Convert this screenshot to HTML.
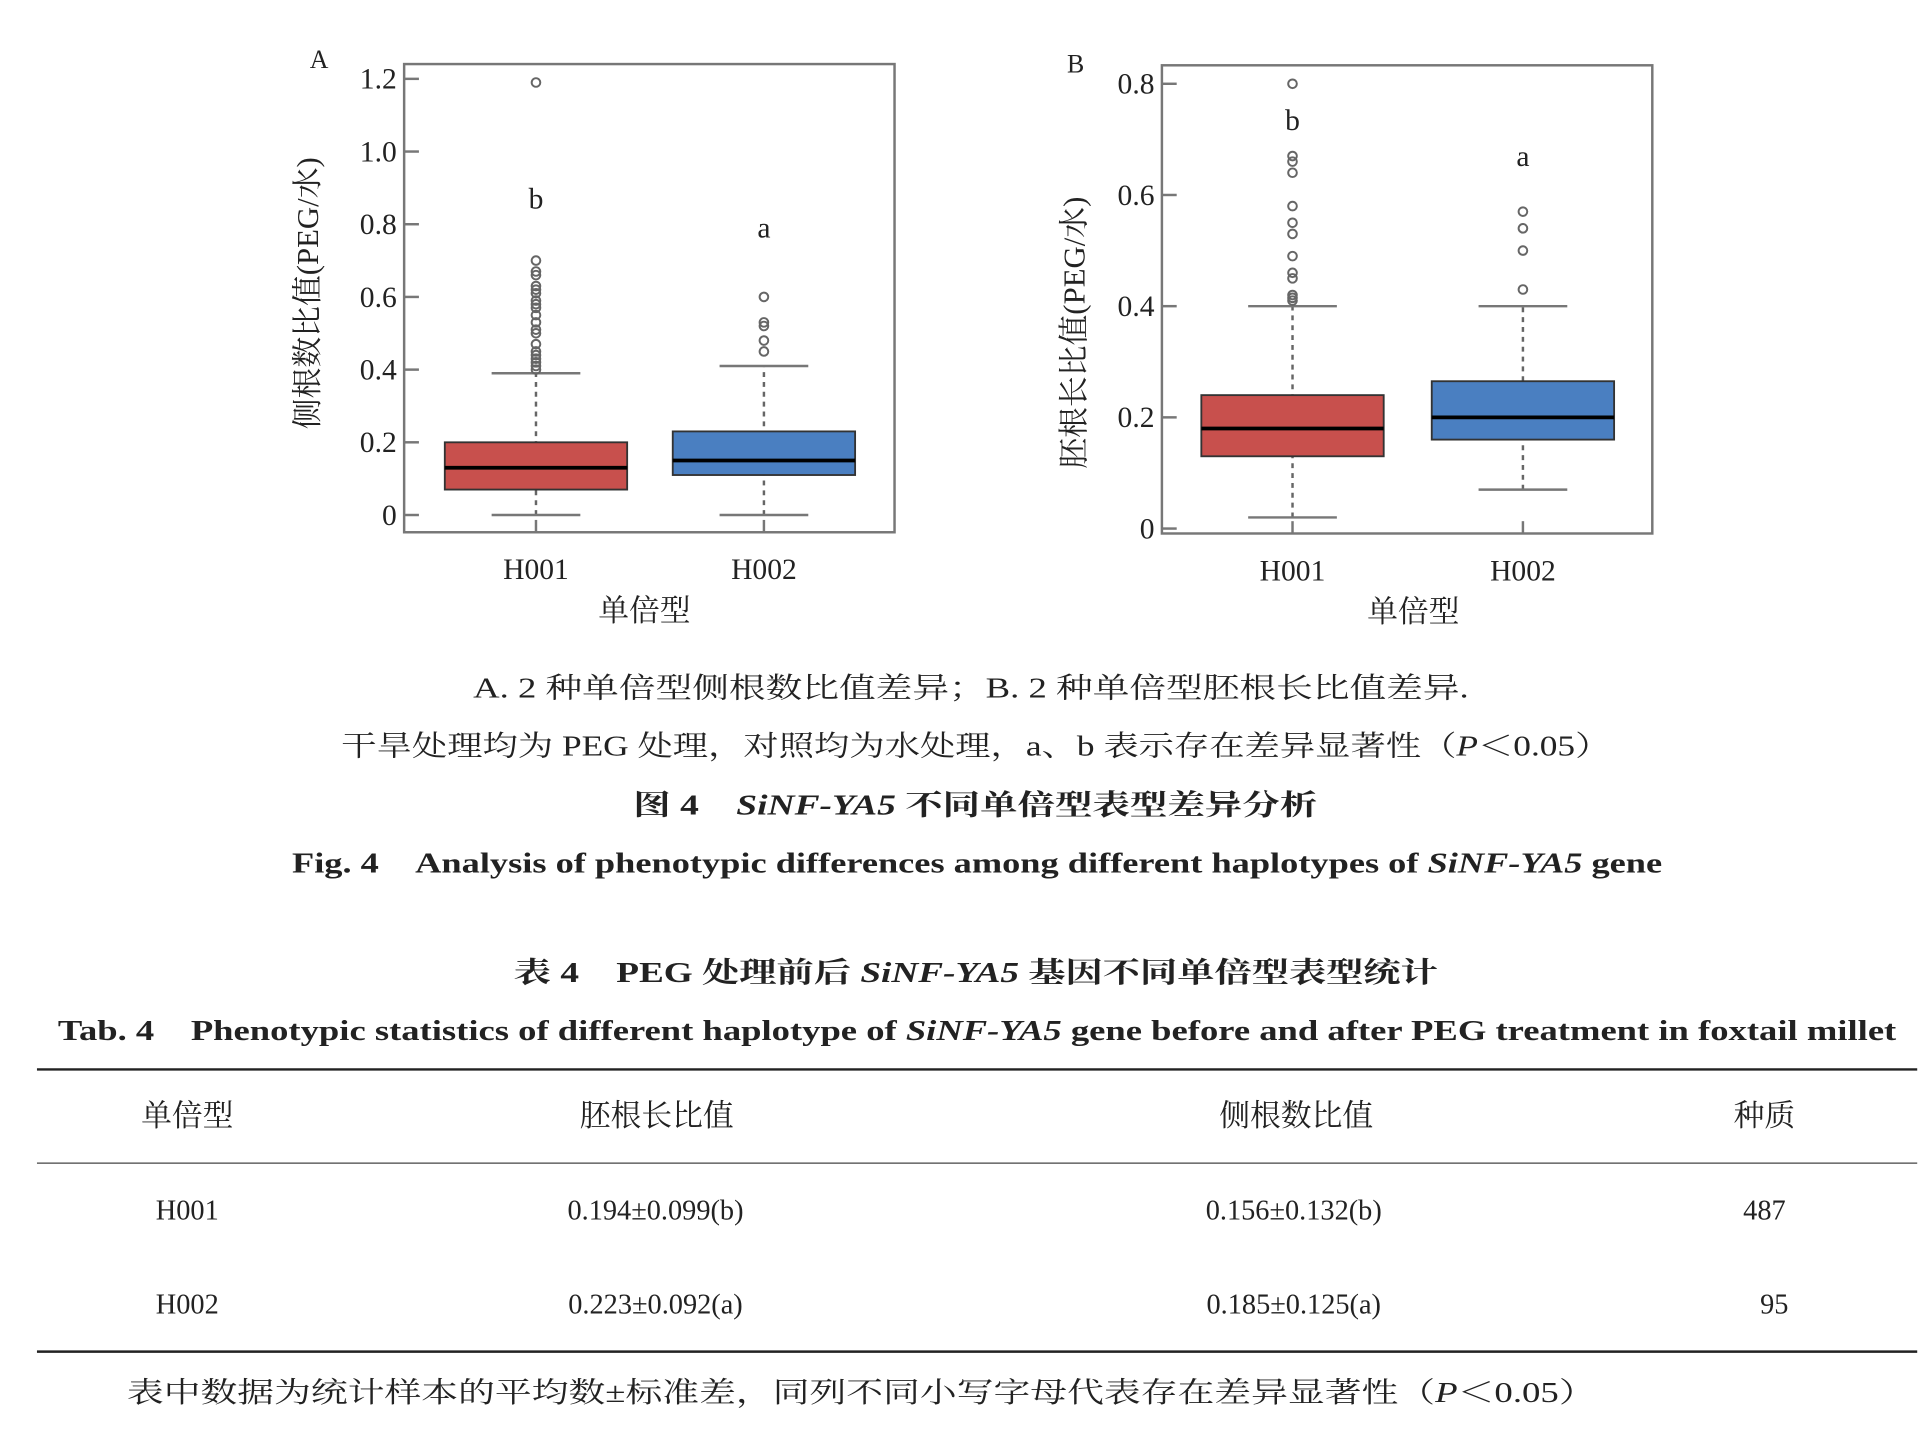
<!DOCTYPE html>
<html><head><meta charset="utf-8"><style>
html,body{margin:0;padding:0;background:#fff;}
svg{display:block;}
text{font-family:"Liberation Serif","Noto Serif CJK SC",serif;fill:#222;}
.cn{font-family:"Liberation Serif","Noto Serif CJK SC",serif;}
.b{font-weight:bold;}
</style></head><body>
<svg id="fig" width="1932" height="1452" viewBox="0 0 1568 1178.5" preserveAspectRatio="none" xmlns="http://www.w3.org/2000/svg">
<g id="chartA"></g>
<g id="chartB"></g>

<g font-size="23">
<text x="384" y="566" textLength="808" lengthAdjust="spacingAndGlyphs">A. 2 种单倍型侧根数比值差异；B. 2 种单倍型胚根长比值差异.</text>
<text x="277" y="613" textLength="1030" lengthAdjust="spacingAndGlyphs">干旱处理均为 PEG 处理，对照均为水处理，a、b 表示存在差异显著性（<tspan font-style="italic">P</tspan>＜0.05）</text>
<text class="b" x="514" y="661" textLength="555" lengthAdjust="spacingAndGlyphs">图 4　<tspan font-style="italic">SiNF-YA5</tspan> 不同单倍型表型差异分析</text>
<text class="b" x="237" y="708" textLength="1112" lengthAdjust="spacingAndGlyphs">Fig. 4　Analysis of phenotypic differences among different haplotypes of <tspan font-style="italic">SiNF-YA5</tspan> gene</text>
<text class="b" x="417" y="797" textLength="750" lengthAdjust="spacingAndGlyphs">表 4　PEG 处理前后 <tspan font-style="italic">SiNF-YA5</tspan> 基因不同单倍型表型统计</text>
<text class="b" x="47" y="844" textLength="1492" lengthAdjust="spacingAndGlyphs">Tab. 4　Phenotypic statistics of different haplotype of <tspan font-style="italic">SiNF-YA5</tspan> gene before and after PEG treatment in foxtail millet</text>
</g>

<g font-size="25">
<line x1="30" x2="1556" y1="868" y2="868" stroke="#222" stroke-width="2"/>
<line x1="30" x2="1556" y1="944" y2="944" stroke="#444" stroke-width="1"/>
<line x1="30" x2="1556" y1="1097" y2="1097" stroke="#222" stroke-width="2"/>
<text x="152" y="914" text-anchor="middle">单倍型</text>
<text x="533" y="914" text-anchor="middle">胚根长比值</text>
<text x="1052" y="914" text-anchor="middle">侧根数比值</text>
<text x="1432" y="914" text-anchor="middle">种质</text>
<g font-size="23" fill="#333">
<text x="152" y="990" text-anchor="middle">H001</text>
<text x="532" y="990" text-anchor="middle">0.194±0.099(b)</text>
<text x="1050" y="990" text-anchor="middle">0.156±0.132(b)</text>
<text x="1432" y="990" text-anchor="middle">487</text>
<text x="152" y="1066" text-anchor="middle">H002</text>
<text x="532" y="1066" text-anchor="middle">0.223±0.092(a)</text>
<text x="1050" y="1066" text-anchor="middle">0.185±0.125(a)</text>
<text x="1440" y="1066" text-anchor="middle">95</text>
</g>
<text font-size="23" x="103" y="1138" textLength="1192" lengthAdjust="spacingAndGlyphs">表中数据为统计样本的平均数±标准差，同列不同小写字母代表存在差异显著性（<tspan font-style="italic">P</tspan>＜0.05）</text>
</g>
</svg>
<script>
// Chart A data
const catsA = ["H001","H002"];
const q1A = [0.07, 0.11];
const medA = [0.13, 0.15];
const q3A = [0.20, 0.23];
const wLoA = [0.0, 0.0];
const wHiA = [0.39, 0.41];
const outA = [[0.40,0.41,0.42,0.43,0.44,0.45,0.47,0.50,0.51,0.53,0.55,0.57,0.58,0.59,0.61,0.62,0.63,0.66,0.67,0.70,1.19],[0.45,0.48,0.52,0.53,0.60]];
const sigA = ["b","a"];
const sigYA = [0.87, 0.79];
const ticksA = [0,0.2,0.4,0.6,0.8,1.0,1.2];
const tickLabA = ["0","0.2","0.4","0.6","0.8","1.0","1.2"];
// Chart B data
const catsB = ["H001","H002"];
const q1B = [0.13, 0.16];
const medB = [0.18, 0.20];
const q3B = [0.24, 0.265];
const wLoB = [0.02, 0.07];
const wHiB = [0.40, 0.40];
const outB = [[0.41,0.415,0.42,0.45,0.46,0.49,0.53,0.55,0.58,0.64,0.66,0.67,0.80],[0.43,0.50,0.54,0.57]];
const sigB = ["b","a"];
const sigYB = [0.735, 0.67];
const ticksB = [0,0.2,0.4,0.6,0.8];
const tickLabB = ["0","0.2","0.4","0.6","0.8"];

const NS="http://www.w3.org/2000/svg";
function mk(parent,tag,attrs){const e=document.createElementNS(NS,tag);for(const k in attrs)e.setAttribute(k,attrs[k]);parent.appendChild(e);return e;}
const fills=["#c8504d","#4a7fc1"];

function draw(g,o){
  const y=v=>o.y0-(v/0.2)*o.step;
  const frame=mk(g,'rect',{x:o.left,y:o.top,width:o.right-o.left,height:o.bottom-o.top,fill:'none',stroke:'#777','stroke-width':2});
  
  
  o.ticks.forEach((t,i)=>{
    const tk=mk(g,'line',{x1:o.left,x2:o.left+12,y1:y(t),y2:y(t),stroke:'#777','stroke-width':2});
    
    
    const tl=mk(g,'text',{x:o.left-6,y:y(t)+8,'text-anchor':'end','font-size':24});
    tl.textContent=o.labs[i];
    
    
  });
  o.cats.forEach((c,i)=>{
    const cx=o.xs[i], hw=74, cw=36;
    const xt=mk(g,'line',{x1:cx,x2:cx,y1:o.bottom,y2:o.bottom-10,stroke:'#777','stroke-width':2});
    
    
    const wl=mk(g,'line',{x1:cx,x2:cx,y1:y(o.wLo[i]),y2:y(o.wHi[i]),stroke:'#666','stroke-width':2,'stroke-dasharray':'4,4'});
    
    
    [o.wLo[i],o.wHi[i]].forEach(v=>{
      const cap=mk(g,'line',{x1:cx-cw,x2:cx+cw,y1:y(v),y2:y(v),stroke:'#777','stroke-width':2});
      
      
    });
    const bx=mk(g,'rect',{x:cx-hw,y:y(o.q3[i]),width:2*hw,height:y(o.q1[i])-y(o.q3[i]),fill:fills[i],stroke:'#333','stroke-width':1.5});
    
    
    const md=mk(g,'line',{x1:cx-hw,x2:cx+hw,y1:y(o.med[i]),y2:y(o.med[i]),stroke:'#000','stroke-width':3});
    
    
    o.out[i].forEach(v=>{
      const p=mk(g,'circle',{cx:cx,cy:y(v),r:3.5,fill:'none',stroke:'#666','stroke-width':1.6});
      
      
    });
    const s=mk(g,'text',{x:cx,y:y(o.sigY[i])+8,'text-anchor':'middle','font-size':24});
    s.textContent=o.sig[i];
    
    
    const xl=mk(g,'text',{x:cx,y:o.bottom+38,'text-anchor':'middle','font-size':24});
    xl.textContent=c;
    
    
  });
  const xt=mk(g,'text',{x:o.xTitleX,y:o.bottom+72,'text-anchor':'middle','font-size':25});
  xt.textContent='单倍型';
  
  
  const yt=mk(g,'text',{x:0,y:0,'text-anchor':'middle','font-size':25,transform:`translate(${o.yTitleX},${o.yTitleY}) rotate(-90)`});
  yt.textContent=o.yTitle;
  
  
  const pl=mk(g,'text',{x:o.panelX,y:o.panelY,'text-anchor':'middle','font-size':21});
  pl.textContent=o.panel;
  
  
}
draw(document.getElementById('chartA'),{left:328,right:726,top:52,bottom:432,y0:418,step:59,xs:[435,620],
  cats:catsA,q1:q1A,med:medA,q3:q3A,wLo:wLoA,wHi:wHiA,out:outA,sig:sigA,sigY:sigYA,ticks:ticksA,labs:tickLabA,
  xTitleX:523,yTitleX:258,yTitleY:238,yTitle:'侧根数比值(PEG/水)',panel:'A',panelX:259,panelY:55});
draw(document.getElementById('chartB'),{left:943,right:1341,top:53,bottom:433,y0:429,step:90.25,xs:[1049,1236],
  cats:catsB,q1:q1B,med:medB,q3:q3B,wLo:wLoB,wHi:wHiB,out:outB,sig:sigB,sigY:sigYB,ticks:ticksB,labs:tickLabB,
  xTitleX:1147,yTitleX:880,yTitleY:270,yTitle:'胚根长比值(PEG/水)',panel:'B',panelX:873,panelY:59});
</script>
</body></html>
